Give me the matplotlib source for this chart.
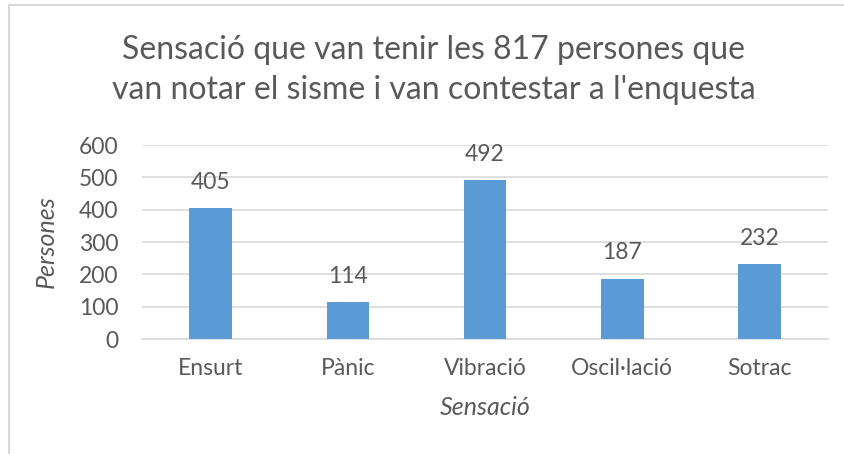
import matplotlib
matplotlib.use('Agg')
import matplotlib.pyplot as plt
from matplotlib.lines import Line2D

# dades
categories = ['Ensurt', 'Pànic', 'Vibració', 'Oscil·lació', 'Sotrac']
persones = [405, 114, 492, 187, 232]
yticks = [0, 100, 200, 300, 400, 500, 600]

plt.rcParams['font.family'] = ['Lato', 'DejaVu Sans']
text_color = '#595959'
bar_color = '#5B9BD5'
grid_color = '#D9D9D9'

fig = plt.figure(figsize=(8.45, 4.54), dpi=100)
ax = fig.add_axes([0.168, 0.2533, 0.812, 0.4273])

x = range(len(categories))
bars = ax.bar(x, persones, width=0.31, color=bar_color, zorder=3)

# etiquetes de dades
for xi, v in zip(x, persones):
    ax.annotate(str(v), (xi, v), xytext=(0, 11), textcoords='offset points',
                ha='center', va='bottom', fontsize=16.5, color=text_color)

ax.set_xlim(-0.5, len(categories) - 0.5)
ax.set_ylim(0, 600)
ax.set_yticks(yticks)
ax.set_xticks(list(x))
ax.set_xticklabels(categories)
ax.tick_params(axis='both', length=0, labelsize=16.5, colors=text_color)
ax.tick_params(axis='y', pad=17)
ax.tick_params(axis='x', pad=14)

ax.grid(axis='y', color=grid_color, linewidth=1.2, zorder=0)
for s in ['top', 'right', 'left']:
    ax.spines[s].set_visible(False)
ax.spines['bottom'].set_color(grid_color)
ax.spines['bottom'].set_linewidth(1.2)

ax.set_ylabel('Persones', fontsize=18, style='italic', color=text_color, labelpad=15)
ax.set_xlabel('Sensació', fontsize=18, style='italic', color=text_color, labelpad=12)

fig.text(0.513, 0.846, "Sensació que van tenir les 817 persones que\nvan notar el sisme i van contestar a l'enquesta",
         ha='center', va='center', fontsize=23, color=text_color, linespacing=1.45)

# vora del gràfic
fig.add_artist(Line2D([0.0105, 0.0105], [0, 0.988], color=grid_color, linewidth=1.5))
fig.add_artist(Line2D([0.0105, 1.0], [0.988, 0.988], color=grid_color, linewidth=1.5))

plt.savefig('out.png', dpi=100)
